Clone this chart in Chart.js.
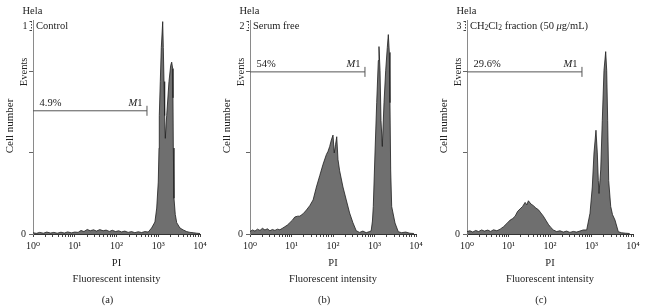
<!DOCTYPE html>
<html>
<head>
<meta charset="utf-8">
<script src="https://cdn.jsdelivr.net/npm/chart.js@4.4.1/dist/chart.umd.min.js"></script>
<style>
  body { margin: 0; background: #fff; }
  #wrap { position: relative; width: 646px; height: 308px; }
  canvas { position: absolute; top: 0; }
</style>
</head>
<body>
<div id="wrap">
  <canvas id="ca" width="215" height="308" style="left:0px"></canvas>
  <canvas id="cb" width="216" height="308" style="left:215px"></canvas>
  <canvas id="cc" width="215" height="308" style="left:431px"></canvas>
</div>
<script>
// PI channel positions (log10 decades) and cell counts
const decA = [0.00,0.08,0.16,0.25,0.33,0.42,0.50,0.58,0.67,0.75,0.83,0.92,1.00,1.08,1.15,1.22,1.30,1.37,1.45,1.52,1.60,1.68,1.75,1.83,1.90,1.98,2.05,2.12,2.20,2.28,2.36,2.44,2.52,2.60,2.68,2.76,2.84,
  2.92,2.963,3.00,3.018,3.025,3.049,3.073,3.107,3.121,3.138,3.154,3.169,3.202,3.257,3.298,3.322,3.346,3.353,3.361,3.377,3.408,3.442,3.52,3.60,3.68,3.76,3.84,3.92,4.00];
const cntA = [0.8,0.4,1.0,0.5,1.2,0.6,1.0,0.5,1.1,0.6,1.3,0.7,1.2,1.0,2.2,1.5,2.8,2.0,2.6,1.8,2.7,2.0,2.4,1.6,2.3,1.5,2.0,1.3,1.8,1.0,1.5,0.8,1.4,0.9,1.5,1.2,3.7,
  7.4,16,32,53,73,94,115,131,115,94,73,59,73,94,104,106,102,84,53,22,12,7,3.7,2.5,1.5,1.0,0.8,0.5,0.3];

const decB = [0.00,0.06,0.12,0.18,0.24,0.30,0.36,0.42,0.48,0.54,0.60,0.66,0.72,0.78,0.84,0.90,0.96,1.02,1.08,1.15,1.20,1.28,1.36,1.44,1.52,1.60,1.68,1.76,1.84,1.88,1.92,1.96,2.00,2.03,2.06,2.09,2.12,2.16,2.24,2.32,2.40,2.48,2.56,2.64,2.72,2.80,2.88,2.92,
  2.95,2.971,3.012,3.053,3.092,3.108,3.133,3.157,3.188,3.229,3.270,3.308,3.333,3.357,3.373,3.390,3.414,3.494,3.573,3.655,3.75,3.85,3.95];
const cntB = [1.5,2.5,1.8,3.0,2.2,3.5,2.5,3.2,2.0,2.8,2.2,3.0,2.6,3.5,4.5,5.5,7.0,8.5,10.5,11,11,12.5,14.8,17.5,21,29,36,43,49,51,54,58,61,50,55,60,46,39,29,21,13,7,2,1.0,1.8,0.8,1.5,2.0,
  8,17,50,81,107,115.6,101,70,54,81,101,115,123,112,81,39.5,17,6.8,1.4,0.8,1.2,0.5,0.3];

const decC = [0.00,0.07,0.14,0.21,0.28,0.35,0.42,0.50,0.57,0.64,0.72,0.80,0.88,0.96,1.04,1.10,1.16,1.22,1.28,1.34,1.40,1.44,1.48,1.54,1.60,1.66,1.72,1.78,1.84,1.90,1.96,2.02,2.08,2.16,2.24,2.32,2.40,2.48,2.56,2.64,2.72,2.80,
  2.884,2.964,3.019,3.06,3.108,3.14,3.164,3.181,3.222,3.26,3.301,3.342,3.366,3.39,3.414,3.463,3.506,3.566,3.646,3.72,3.82,3.92];
const cntC = [1.5,2.0,1.2,2.2,1.5,2.5,1.8,2.4,1.6,2.6,2.0,3.0,4.5,6.5,8.6,9.5,11,14,15.5,17,19.5,18,20.5,18.5,17.5,16,15,13,11,8.5,6,4,2.5,1.5,2.0,1.2,1.8,1.0,1.6,1.2,1.8,2.5,
  2.5,12.8,29,50,64,50,33,25,39.5,70,101,112.5,101,70,33,17,12,8.6,1.4,0.8,0.5,0.3];

const panelNo = ['1', '2', '3'];
const panelLetter = ['(a)', '(b)', '(c)'];
const m1Pct = ['4.9%', '54%', '29.6%'];
const m1Level = [76, 100, 100];
const m1End = [2.73, 2.77, 2.77];   // decades
const xTickExp = [0, 1, 2, 3, 4];
const yTicks = [0, 50, 100];
const yMax = 132;

const F = "'Liberation Serif', 'DejaVu Serif', serif";
const sup = ['⁰', '¹', '²', '³', '⁴'];
Chart.defaults.font.family = F;
Chart.defaults.color = '#222';

// titles as text runs: [text, size, dy, style]
const titles = [
  [['Control', 10.5]],
  [['Serum free', 10.5]],
  [['CH', 10.5], ['2', 7.5, 2.5], ['Cl', 10.5], ['2', 7.5, 2.5], [' fraction (50 ', 10.5], ['μ', 10.5, 0, 'italic'], ['g/mL)', 10.5]]
];

function runsWidth(ctx, runs) {
  let w = 0;
  for (const r of runs) { ctx.font = (r[3] || '') + ' ' + r[1] + 'px ' + F; w += ctx.measureText(r[0]).width; }
  return w;
}
function drawRuns(ctx, x, y, runs) {
  for (const r of runs) {
    ctx.font = (r[3] || '') + ' ' + r[1] + 'px ' + F;
    ctx.fillText(r[0], x, y + (r[2] || 0));
    x += ctx.measureText(r[0]).width;
  }
}

const labelPlugin = {
  id: 'labels',
  afterDraw(chart) {
    const i = chart.options.plugins.labels.idx;
    const ctx = chart.ctx, ca = chart.chartArea;
    const xs = chart.scales.x, ys = chart.scales.y;
    const L = ca.left, cx = (ca.left + ca.right) / 2;
    ctx.save();
    ctx.fillStyle = '#222';
    ctx.textBaseline = 'middle';
    ctx.textAlign = 'left';
    drawRuns(ctx, L - 10.5, 11, [['Hela', 10.5]]);
    drawRuns(ctx, L - 10.5, 26, [[panelNo[i], 10]]);
    drawRuns(ctx, L + 3, 26, titles[i]);

    // little dotted bracket next to the panel number
    ctx.strokeStyle = '#444';
    ctx.lineWidth = 1;
    ctx.setLineDash([1.5, 1.5]);
    ctx.beginPath(); ctx.moveTo(L - 1.5, 21); ctx.lineTo(L - 1.5, 31); ctx.stroke();
    ctx.setLineDash([]);
    ctx.beginPath();
    ctx.moveTo(L - 3.5, 21.5); ctx.lineTo(L - 1.5, 21.5);
    ctx.moveTo(L - 3.5, 30.5); ctx.lineTo(L - 1.5, 30.5);
    ctx.stroke();

    // M1 marker labels
    const my = ys.getPixelForValue(m1Level[i]);
    const mx = xs.getPixelForValue(Math.pow(10, m1End[i]));
    drawRuns(ctx, L + 6.5, my - 7.5, [[m1Pct[i], 10.5]]);
    const m1 = [['M', 10.5, 0, 'italic'], ['1', 10.5]];
    drawRuns(ctx, mx - 4.5 - runsWidth(ctx, m1), my - 7.5, m1);

    // axis titles
    ctx.font = '10.5px ' + F;
    ctx.textAlign = 'center';
    ctx.fillText('PI', cx, 263);
    ctx.fillText('Fluorescent intensity', cx, 279);
    ctx.fillText(panelLetter[i], cx - 9, 300);

    ctx.save();
    ctx.translate(L - 8.5, ys.getPixelForValue(100));
    ctx.rotate(-Math.PI / 2);
    ctx.fillText('Events', 0, 0);
    ctx.restore();
    ctx.save();
    ctx.translate(L - 23, 126);
    ctx.rotate(-Math.PI / 2);
    ctx.font = '11px ' + F;
    ctx.fillText('Cell number', 0, 0);
    ctx.restore();
    ctx.restore();
  }
};

function makePanel(id, idx, dec, cnt, chartLeft, chartRight, width) {
  const hist = dec.map((d, k) => ({ x: Math.pow(10, d), y: cnt[k] }));
  const marker = [{ x: 1, y: m1Level[idx] }, { x: Math.pow(10, m1End[idx]), y: m1Level[idx] }];
  new Chart(document.getElementById(id), {
    type: 'line',
    data: {
      datasets: [
        {
          data: marker,
          borderColor: '#555',
          borderWidth: 1,
          pointRadius: [0, 5],
          pointStyle: 'line',
          rotation: 90,
          pointBorderColor: '#555',
          pointBorderWidth: 1,
          fill: false,
          clip: false
        },
        {
          data: hist,
          borderColor: '#1e1e1e',
          borderWidth: 0.8,
          backgroundColor: '#6f6f6f',
          fill: 'origin',
          pointRadius: 0,
          tension: 0
        }
      ]
    },
    options: {
      responsive: false,
      animation: false,
      events: [],
      layout: { padding: { left: chartLeft - 20, right: width - chartRight, top: 20, bottom: 54 } },
      plugins: { legend: { display: false }, tooltip: { enabled: false }, labels: { idx: idx } },
      scales: {
        x: {
          type: 'logarithmic',
          min: 1,
          max: 10000,
          afterFit: s => { s.height = 20; },
          afterBuildTicks: s => {
            const t = [];
            for (let e = 0; e < 4; e++) {
              for (let k = 1; k < 10; k++) t.push({ value: k * Math.pow(10, e), major: k === 1 });
            }
            t.push({ value: 10000, major: true });
            s.ticks = t;
          },
          grid: { drawOnChartArea: false, drawTicks: true, tickLength: 3, tickColor: '#444' },
          border: { display: true, color: '#333', width: 1 },
          ticks: {
            autoSkip: false,
            maxRotation: 0,
            minRotation: 0,
            padding: 3,
            color: '#222',
            font: { size: 10, family: F },
            callback: v => {
              const e = Math.round(Math.log10(v));
              return (Math.abs(Math.pow(10, e) - v) < 1e-6 && xTickExp.includes(e)) ? '10' + sup[e] : '';
            }
          }
        },
        y: {
          type: 'linear',
          min: 0,
          max: yMax,
          afterFit: s => { s.width = 20; },
          afterBuildTicks: s => { s.ticks = yTicks.map(v => ({ value: v })); },
          grid: { drawOnChartArea: false, drawTicks: true, tickLength: 4, tickColor: '#666' },
          border: { display: true, color: '#8a8a8a', width: 1 },
          ticks: {
            padding: 3,
            color: '#222',
            font: { size: 10, family: F },
            callback: v => (v === 0 ? '0' : '')
          }
        }
      }
    },
    plugins: [labelPlugin]
  });
}

makePanel('ca', 0, decA, cntA, 33, 200, 215);
makePanel('cb', 1, decB, cntB, 35, 201, 216);
makePanel('cc', 2, decC, cntC, 36, 202, 215);
</script>
</body>
</html>
